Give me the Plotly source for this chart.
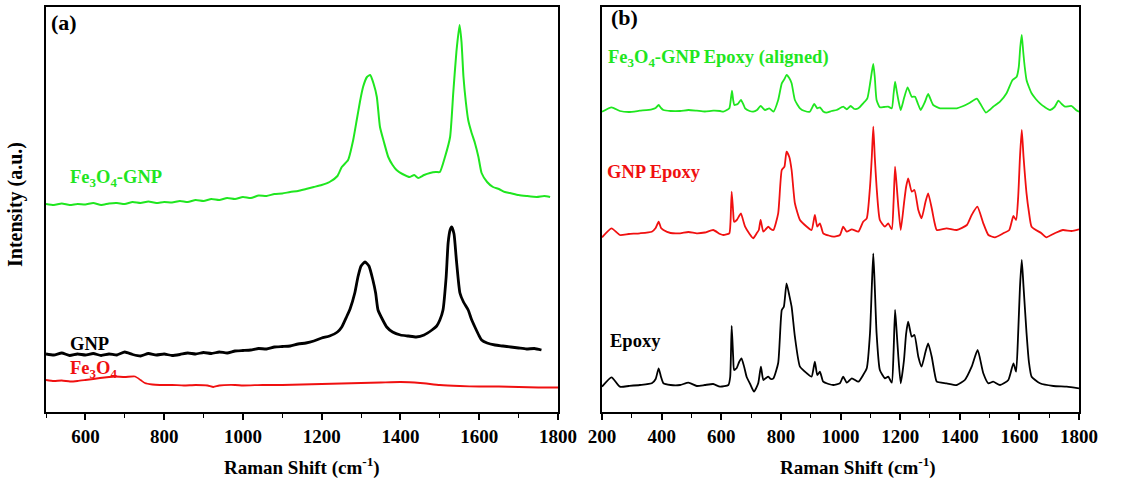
import plotly.graph_objects as go

W, H = 1138, 487

# ---------------- Panel (a) data ----------------
a_gnp_x = [500, 520, 540, 560, 580, 600, 620, 640, 660, 680, 700, 720, 740, 760, 780, 800,
           820, 840, 860, 880, 900, 920, 940, 960, 980, 1000, 1020, 1040, 1060, 1080, 1100,
           1120, 1140, 1160, 1180, 1200, 1220, 1240, 1251, 1263, 1272, 1284, 1292, 1300, 1310,
           1320, 1330, 1337, 1343, 1355, 1365, 1380, 1400, 1420, 1440, 1460, 1480, 1492, 1500,
           1508, 1516, 1521, 1526, 1530, 1536, 1542, 1551, 1560, 1572, 1580, 1589, 1600, 1606,
           1620, 1640, 1660, 1680, 1700, 1720, 1740, 1758]
a_gnp_y = [58, 57, 59, 56.5, 58, 57, 58.5, 56.5, 58, 57, 60, 57.5, 56, 58.5, 57, 58,
           56.5, 57.5, 59, 58, 59.5, 58.5, 60, 59, 61, 61.5, 62, 63.5, 63, 65, 65.5,
           66, 68, 69, 71, 74, 76, 80, 85, 95, 103, 119, 135, 146, 150,
           146, 132, 119, 102, 92, 85, 80, 77, 76, 75, 77, 82, 86, 92,
           102, 135, 169, 182, 185, 178, 152, 119, 110, 102, 93, 85, 76, 72,
           69, 67, 66, 65, 64, 63, 63.5, 62]

a_fgnp_x = [500, 520, 540, 560, 580, 600, 620, 640, 660, 680, 700, 720, 740, 760, 780, 800,
            820, 840, 860, 880, 900, 920, 940, 960, 980, 1000, 1020, 1040, 1060, 1080, 1100,
            1120, 1140, 1160, 1180, 1200, 1220, 1240, 1251, 1267, 1280, 1289, 1297, 1305, 1315,
            1323, 1332, 1340, 1348, 1358, 1369, 1380, 1390, 1405, 1424, 1435, 1445, 1460, 1475,
            1490, 1500, 1513, 1526, 1534, 1542, 1550, 1555, 1560, 1566, 1572, 1580, 1589, 1598,
            1606, 1620, 1635, 1650, 1665, 1678, 1700, 1720, 1746, 1765, 1780]
a_fgnp_y = [208, 207, 208.5, 207, 208, 207.5, 209, 207, 208.5, 209, 208, 210, 209, 210.5, 209, 210,
            209.5, 211, 210, 212, 211, 213, 212, 214, 213, 215, 214, 216.5, 216, 218, 218.5,
            220, 221, 223, 225, 227, 230, 236, 245, 252, 272, 292, 310, 325, 335,
            337, 328, 315, 285, 270, 255, 247, 242, 238, 235, 237, 234, 237, 239,
            240, 240, 255, 275, 319, 360, 387, 370, 335, 310, 292, 280, 269, 255,
            239, 230, 225, 223, 220, 219, 217, 216, 215, 216, 215]

a_fe_x = [500, 520, 540, 561, 580, 600, 620, 637, 660, 675, 700, 726, 740, 751, 770, 789,
          820, 850, 880, 910, 925, 940, 980, 1000, 1050, 1100, 1150, 1200, 1250, 1300, 1350,
          1400, 1450, 1500, 1550, 1600, 1650, 1700, 1750, 1800]
a_fe_y = [32, 31, 31.5, 30.5, 31, 32, 33, 34, 35, 35.5, 35, 35.5, 32, 29, 27.5, 27,
          27, 26.5, 27, 26.5, 25, 26.5, 27, 26.5, 27, 27, 27.5, 28, 28.5, 29, 29.5,
          30, 29, 27, 26, 25.5, 25.5, 25, 24.5, 24.5]

# ---------------- Panel (b) data ----------------
b_epoxy_x = [200, 232, 260, 290, 327, 367, 380, 390, 398, 406, 430, 462, 490, 518, 545, 573,
             596, 624, 630, 635, 640, 643, 652, 660, 668, 677, 685, 697, 710, 724, 733, 741,
             750, 758, 766, 775, 791, 803, 810, 819, 828, 836, 847, 864, 887, 903, 914, 922,
             931, 942, 960, 976, 998, 1009, 1021, 1038, 1060, 1076, 1088, 1099, 1105, 1110,
             1115, 1121, 1132, 1149, 1160, 1172, 1178, 1183, 1188, 1194, 1202, 1213, 1220,
             1227, 1239, 1248, 1261, 1272, 1285, 1294, 1306, 1315, 1323, 1356, 1390, 1417,
             1440, 1460, 1479, 1496, 1512, 1535, 1563, 1580, 1589, 1596, 1602, 1608, 1614,
             1624, 1632, 1641, 1669, 1714, 1759, 1800]
b_epoxy_y = [25.3, 34.7, 25.3, 26, 27, 28.7, 33, 43.7, 35, 28.7, 27, 27, 29.3, 26, 27, 28,
             25.3, 27, 35, 86, 55, 42, 44, 50, 53.7, 45, 35.3, 28, 20.3, 28.7, 45.3, 32,
             34, 35.3, 33, 33.7, 49, 102, 105.3, 128.7, 117, 105.3, 75.3, 45.3, 38.7, 35.3, 50.3, 37,
             40.3, 30.3, 28, 27, 28.7, 35.3, 29.3, 33.7, 30.3, 37, 43.7, 79, 125, 158.7,
             125, 79, 42, 33.7, 35.3, 29.3, 60, 102, 82, 55.3, 28.7, 52, 78,
             90.3, 75.3, 77, 55.3, 45.3, 60, 68.7, 55.3, 40, 30.3, 28.7, 27, 32,
             45.3, 62, 38.7, 28.7, 30.3, 27, 32, 48.7, 40.3, 79, 125, 152, 125,
             79, 50, 35.3, 28.7, 26, 25.3, 23.7]

b_gnpep_x = [200, 232, 260, 290, 327, 367, 380, 390, 398, 406, 430, 462, 490, 518, 545, 573,
             596, 607, 627, 631, 635, 640, 643, 652, 660, 666, 675, 680, 695, 707, 719, 726,
             732, 741, 750, 758, 766, 775, 791, 803, 812, 819, 828, 836, 847, 864, 887, 903,
             914, 922, 931, 942, 960, 976, 998, 1009, 1021, 1038, 1060, 1076, 1088, 1099, 1105,
             1110, 1115, 1121, 1132, 1149, 1160, 1172, 1178, 1183, 1188, 1194, 1202, 1213, 1220,
             1227, 1239, 1248, 1261, 1272, 1285, 1294, 1306, 1315, 1323, 1356, 1390, 1424, 1440,
             1459, 1479, 1496, 1518, 1546, 1566, 1580, 1589, 1596, 1602, 1608, 1614, 1624, 1632,
             1641, 1674, 1690, 1720, 1746, 1775, 1800]
b_gnpep_y = [174.7, 183.7, 177, 178, 178.7, 180.3, 184, 190.3, 184, 182, 179, 178.7, 180, 178.7, 179.5, 182,
             178, 177, 178.7, 190, 220.3, 200, 190.3, 192, 196, 198.7, 190, 185.3, 178, 173.7, 178.7, 182,
             192, 180.3, 183, 185.3, 183, 182, 198.7, 242, 245.3, 260.3, 255.3, 242, 208.7, 192, 185.3, 182,
             197, 185.3, 188.7, 178.7, 176.5, 175.3, 177, 185.3, 180.3, 182.7, 180.3, 190.3, 193.7, 225.3, 255,
             285.3, 255, 225.3, 192, 185.3, 188.7, 182.7, 210, 245.3, 228, 205.3, 182, 208.7, 225,
             233.7, 220.3, 222, 202, 193.7, 210, 218.7, 203.7, 190, 182, 183.7, 182, 187, 197,
             205.3, 188.7, 177, 174.7, 178.7, 182, 196, 192, 215, 255, 282, 255, 218.7, 200,
             185.3, 178.7, 174.7, 179, 182, 181, 182.7]

b_aligned_x = [200, 232, 260, 290, 327, 367, 380, 390, 398, 406, 430, 462, 490, 518, 545, 573,
               596, 607, 627, 631, 636, 640, 644, 655, 666, 675, 680, 695, 707, 720, 732, 747,
               761, 775, 791, 803, 812, 819, 828, 836, 847, 864, 880, 897, 912, 922, 931, 942,
               953, 970, 987, 1009, 1021, 1034, 1047, 1060, 1076, 1090, 1100, 1105, 1110, 1115,
               1121, 1132, 1146, 1160, 1172, 1178, 1183, 1188, 1194, 1202, 1213, 1225, 1239, 1250,
               1260, 1269, 1283, 1294, 1303, 1311, 1334, 1367, 1390, 1412, 1434, 1457, 1468, 1488,
               1500, 1512, 1535, 1557, 1577, 1591, 1598, 1603, 1608, 1613, 1618, 1624, 1632, 1641,
               1655, 1669, 1685, 1703, 1718, 1731, 1742, 1753, 1775, 1790, 1800]
b_aligned_y = [300.3, 304.7, 301, 300, 301.3, 302.7, 304, 307, 304, 302, 301, 301, 302, 301.3, 300.5, 301.3,
               301, 300.3, 303.7, 310, 321.3, 312, 307, 308, 312, 307, 303.7, 301, 300.3, 302, 306, 302,
               303.7, 300.3, 312, 328.7, 333, 337, 334, 328.7, 312, 303.7, 301, 300.3, 308, 303.7, 304.7, 300.5,
               299.3, 301, 302, 305.3, 302.7, 306, 303, 303.7, 308.7, 313.7, 330, 340, 348, 335,
               312, 304.7, 305, 305.3, 303.7, 318, 330.3, 322, 312, 302, 313.7, 324.7, 315.3, 315.3,
               308, 302, 310, 318, 312, 307, 303.7, 303.7, 303.7, 306, 309.3, 313.3, 308.7, 299.3,
               302, 305.3, 310.3, 318.7, 332, 335.3, 345, 365, 377, 360, 345, 332, 325, 318.7,
               313, 308.7, 305, 302, 305, 311.3, 308, 305.3, 306, 302, 300.3]

a_ticks = [600, 800, 1000, 1200, 1400, 1600, 1800]
b_ticks = [200, 400, 600, 800, 1000, 1200, 1400, 1600, 1800]

GREEN = "#1fe61f"
RED = "#f01010"
BLACK = "#000000"
SERIF = "Liberation Serif, Times New Roman, serif"


def px(x):
    return x / W


def py(y):
    return 1 - y / H


fig = go.Figure()
def add_line(xs, ys, color, width, xa, ya):
    fig.add_trace(go.Scatter(x=xs, y=ys, mode="lines",
                             line=dict(color=color, width=width, shape="spline", smoothing=0.5),
                             xaxis=xa, yaxis=ya))

add_line(a_fgnp_x, a_fgnp_y, GREEN, 2, "x", "y")
add_line(a_gnp_x, a_gnp_y, BLACK, 2.8, "x", "y")
add_line(a_fe_x, a_fe_y, RED, 1.8, "x", "y")
add_line(b_aligned_x, b_aligned_y, GREEN, 1.8, "x2", "y2")
add_line(b_gnpep_x, b_gnpep_y, RED, 1.8, "x2", "y2")
add_line(b_epoxy_x, b_epoxy_y, BLACK, 1.8, "x2", "y2")

ydom = [py(412), py(7)]

common_x = dict(
    showline=True, linecolor="black", linewidth=2, mirror=True, automargin=False,
    ticks="outside", ticklen=6, tickwidth=1.6, tickcolor="black",
    showgrid=False, zeroline=False,
    tickfont=dict(family=SERIF, size=19, color="black", weight="bold"),
    minor=dict(dtick=100, ticks="outside", ticklen=4, tickwidth=1.4, tickcolor="black", showgrid=False),
)
common_y = dict(
    showline=True, linecolor="black", linewidth=2, mirror=True, automargin=False,
    ticks="", showticklabels=False, showgrid=False, zeroline=False, range=[0, 405],
)

fig.update_layout(
    template="none",
    width=W, height=H,
    margin=dict(l=0, r=0, t=0, b=0, pad=0),
    paper_bgcolor="white", plot_bgcolor="white",
    showlegend=False,
    xaxis=dict(domain=[px(46), px(558)], range=[500, 1800], tickvals=a_ticks, anchor="y", **common_x),
    yaxis=dict(domain=ydom, anchor="x", **common_y),
    xaxis2=dict(domain=[px(602), px(1079)], range=[200, 1800], tickvals=b_ticks, anchor="y2", **common_x),
    yaxis2=dict(domain=ydom, anchor="x2", **common_y),
)

def label(text, x, y, color="black", size=18, xanchor="left", angle=0):
    fig.add_annotation(text=text, x=px(x), y=py(y), xref="paper", yref="paper",
                       xanchor=xanchor, yanchor="middle", showarrow=False, textangle=angle,
                       font=dict(family=SERIF, size=size, color=color, weight="bold"))

label("(a)", 49, 22, size=22)
label("(b)", 609, 18, size=22)
label("Fe<sub>3</sub>O<sub>4</sub>-GNP", 68, 178, color=GREEN, size=18.5)
label("GNP", 68, 344, color=BLACK, size=18.5)
label("Fe<sub>3</sub>O<sub>4</sub>", 68, 369, color=RED, size=18.5)
label("Fe<sub>3</sub>O<sub>4</sub>-GNP Epoxy (aligned)", 606, 59, color=GREEN, size=18.5)
label("GNP Epoxy", 605, 172, color=RED, size=18.5)
label("Epoxy", 608, 341, color=BLACK, size=18.5)
label("Raman Shift (cm<sup>-1</sup>)", 302, 466, size=19, xanchor="center")
label("Raman Shift (cm<sup>-1</sup>)", 858, 466, size=19, xanchor="center")
label("Intensity (a.u.)", 16, 205, size=20, xanchor="center", angle=-90)

fig.write_html("out.html")
